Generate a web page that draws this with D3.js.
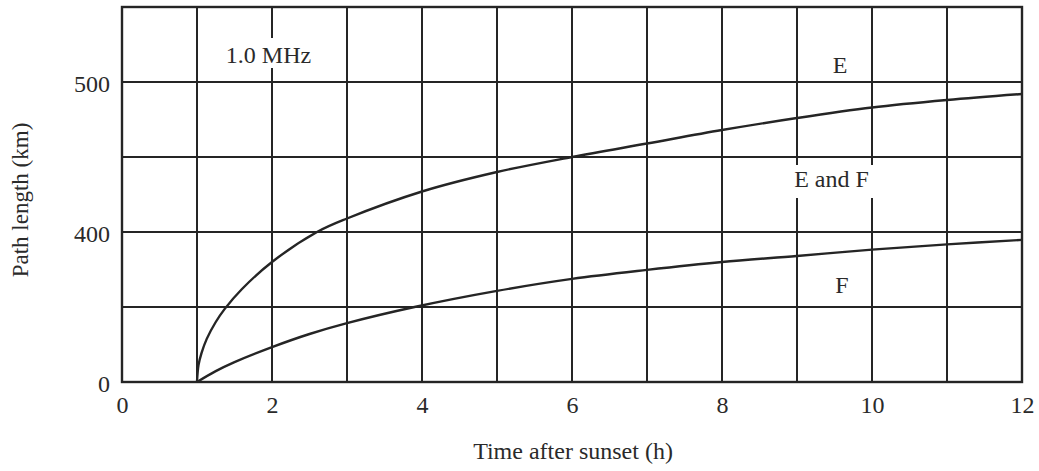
<!DOCTYPE html>
<html>
<head>
<meta charset="utf-8">
<script src="https://cdn.jsdelivr.net/npm/d3@7"></script>
<style>
  body { margin: 0; background: #fff; }
  svg text { font-family: "Liberation Serif", "Times New Roman", serif; fill: #2a2a2a; }
</style>
</head>
<body>
<main></main>
<script>
//Path length vs time after sunset

//Data
const timeE = [1, 1.02, 1.06, 1.13, 1.25, 1.37, 1.6, 2, 2.6, 3, 4, 5, 6, 7, 8, 9, 10, 11, 12];
const pathE = [0, 45, 77, 115, 160, 195, 248, 320, 400, 409, 427, 440, 450, 459, 468, 476, 483, 488, 492];

const timeF = [1, 1.25, 1.5, 2, 2.5, 3, 3.9, 5, 6, 7, 8, 9, 10, 11, 12];
const pathF = [0, 29, 53, 93, 128, 157, 200, 243, 275, 299, 320, 336, 353, 367, 379];

const xTicks = [0, 2, 4, 6, 8, 10, 12];
const yTicks = [0, 400, 500];
const yGrid = [0, 200, 400, 450, 500, 550];

//Parameters
const w = 1039;
const h = 471;
const mLeft = 122, mRight = 1022, mTop = 7, mBottom = 382;

const svg = d3.select("main")
  .append("svg")
  .attr("width", w)
  .attr("height", h);

//Scales (broken y axis: 0-400 squeezed, 400-550 stretched)
const x = d3.scaleLinear().domain([0, 12]).range([mLeft, mRight]);
const y = d3.scaleLinear().domain([0, 400, 550]).range([mBottom, 232, mTop]);

const ink = "#252525";

//Grid
svg.append("g")
  .selectAll("line")
  .data(d3.range(1, 12))
  .enter()
  .append("line")
  .attr("x1", d => x(d)).attr("x2", d => x(d))
  .attr("y1", mTop).attr("y2", mBottom)
  .attr("stroke", ink).attr("stroke-width", 2);

svg.append("g")
  .selectAll("line")
  .data(yGrid)
  .enter()
  .append("line")
  .attr("x1", mLeft).attr("x2", mRight)
  .attr("y1", d => y(d)).attr("y2", d => y(d))
  .attr("stroke", ink).attr("stroke-width", 2);

svg.append("rect")
  .attr("x", mLeft).attr("y", mTop)
  .attr("width", mRight - mLeft).attr("height", mBottom - mTop)
  .attr("fill", "none").attr("stroke", ink).attr("stroke-width", 2.4);

//Axes
const xAxis = svg.append("g")
  .attr("transform", "translate(0," + mBottom + ")")
  .call(d3.axisBottom(x).tickValues(xTicks).tickSize(0).tickPadding(14).tickFormat(d3.format("d")));

const yAxis = svg.append("g")
  .attr("transform", "translate(" + mLeft + ",0)")
  .call(d3.axisLeft(y).tickValues(yTicks).tickSize(0).tickPadding(12).tickFormat(d3.format("d")));

[xAxis, yAxis].forEach(a => {
  a.attr("font-family", null);
  a.select(".domain").remove();
  a.selectAll("text").attr("font-size", 24).attr("fill", "#2a2a2a");
});
yAxis.selectAll("text").attr("dy", "0.4em");

//Curves
const line = d3.line()
  .x(d => x(d[0]))
  .y(d => y(d[1]))
  .curve(d3.curveCatmullRom.alpha(0.5));

[[timeE, pathE], [timeF, pathF]].forEach(s => {
  svg.append("path")
    .datum(d3.zip(s[0], s[1]))
    .attr("d", line)
    .attr("fill", "none")
    .attr("stroke", ink)
    .attr("stroke-width", 2.4)
    .attr("stroke-linejoin", "round");
});

//Labels with white backing where they break the grid
svg.append("rect").attr("x", 221).attr("y", 38).attr("width", 95).attr("height", 30).attr("fill", "#fff");
svg.append("rect").attr("x", 789).attr("y", 165).attr("width", 86).attr("height", 33).attr("fill", "#fff");

const labels = [
  {t: "1.0 MHz", x: 268.5, y: 63},
  {t: "E", x: 840, y: 73},
  {t: "E and F", x: 831.5, y: 187},
  {t: "F", x: 842, y: 293}
];
svg.append("g")
  .selectAll("text")
  .data(labels)
  .enter()
  .append("text")
  .attr("x", d => d.x)
  .attr("y", d => d.y)
  .attr("text-anchor", "middle")
  .attr("font-size", 24)
  .text(d => d.t);

//Axis titles
svg.append("text")
  .attr("x", (mLeft + mRight) / 2 + 1)
  .attr("y", 459)
  .attr("text-anchor", "middle")
  .attr("font-size", 24)
  .text("Time after sunset (h)");

svg.append("text")
  .attr("transform", "translate(28,200) rotate(-90)")
  .attr("text-anchor", "middle")
  .attr("font-size", 23)
  .text("Path length (km)");
</script>
</body>
</html>
